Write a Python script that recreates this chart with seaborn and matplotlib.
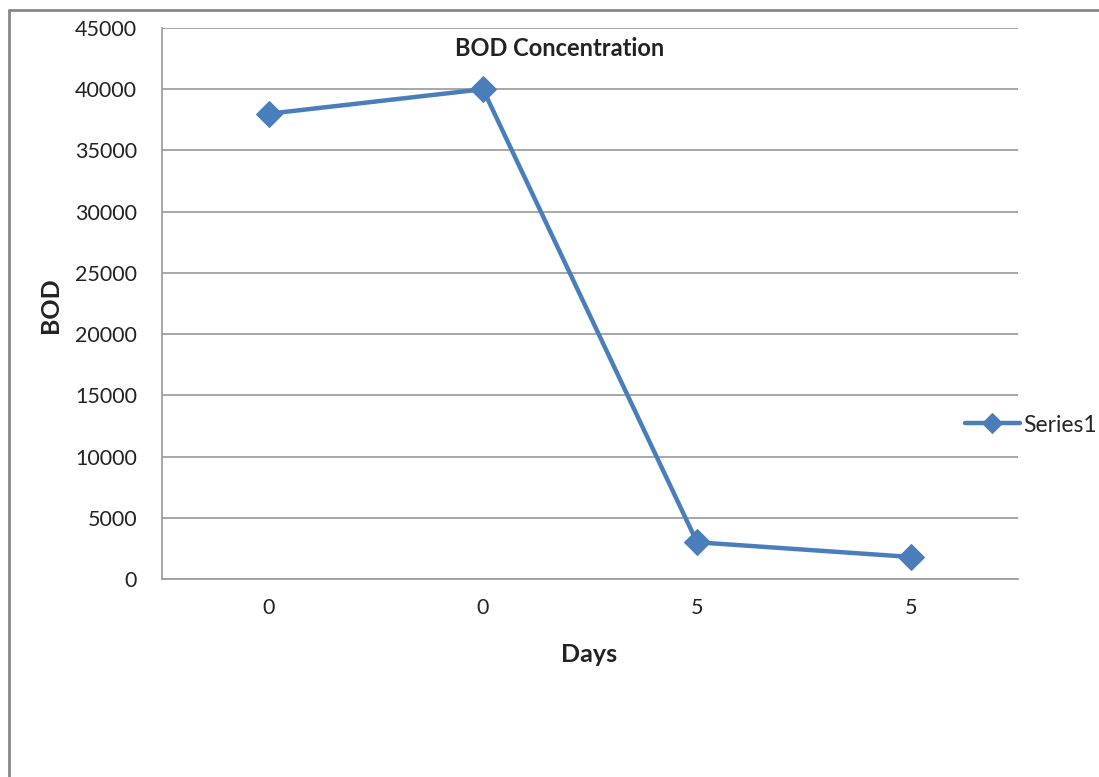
import numpy as np
import matplotlib
matplotlib.use('Agg')
import matplotlib.pyplot as plt
import seaborn as sns
import pandas as pd
from matplotlib.lines import Line2D

# 数据
day_labels = ['0', '0', '5', '5']
bod_values = [38000, 40000, 3000, 1800]
series_name = 'Series1'

sns.set_style('white')
plt.rcParams['font.family'] = ['Lato', 'DejaVu Sans']

df = pd.DataFrame({'pos': np.arange(len(day_labels)), 'BOD': bod_values})

W, H = 1099, 777
fig = plt.figure(figsize=(W / 100, H / 100), dpi=100)
ax = fig.add_axes([162 / W, 1 - 579 / H, (1018 - 162) / W, (579 - 28) / H])

line_color = '#4A7EBB'
sns.lineplot(data=df, x='pos', y='BOD', ax=ax, color=line_color, linewidth=3.2,
             marker='D', markersize=13, markeredgecolor=line_color, label=series_name)

ax.set_xlim(-0.5, len(day_labels) - 0.5)
ax.set_ylim(0, 45000)
ax.set_yticks(np.arange(0, 45001, 5000))
ax.set_xticks(df['pos'])
ax.set_xticklabels(day_labels)
ax.tick_params(axis='both', labelsize=15.5, length=0, colors='#222222')
ax.tick_params(axis='x', pad=14)
ax.tick_params(axis='y', pad=18)
ax.grid(axis='y', color='#a0a0a0', linewidth=1.3)
ax.set_axisbelow(True)
for s in ['top', 'right']:
    ax.spines[s].set_visible(False)
for s in ['left', 'bottom']:
    ax.spines[s].set_color('#a0a0a0')
    ax.spines[s].set_linewidth(1.3)

ax.set_xlabel('')
ax.set_ylabel('')
fig.text(589 / W, 1 - 655 / H, 'Days', ha='center', va='center',
         fontsize=18, fontweight='bold', color='#222222')
fig.text(50 / W, 1 - 305 / H, 'BOD', ha='center', va='center', rotation=90,
         fontsize=18, fontweight='bold', color='#222222')
fig.text(560 / W, 1 - 48 / H, 'BOD Concentration', ha='center', va='center',
         fontsize=17, fontweight='bold', color='#222222')

ax.legend(loc='center left', bbox_to_anchor=(944 / W, 1 - 425 / H),
          bbox_transform=fig.transFigure, frameon=False, fontsize=16.5,
          handlelength=2.4, handletextpad=0.15, markerscale=0.75)

# 图表外框
fig.add_artist(Line2D([9 / W, 9 / W], [0, 1 - 10 / H], transform=fig.transFigure,
                      color='#878787', linewidth=2))
fig.add_artist(Line2D([9 / W, 1], [1 - 10 / H, 1 - 10 / H], transform=fig.transFigure,
                      color='#878787', linewidth=2))

fig.savefig('out.png', dpi=100)
plt.close()
